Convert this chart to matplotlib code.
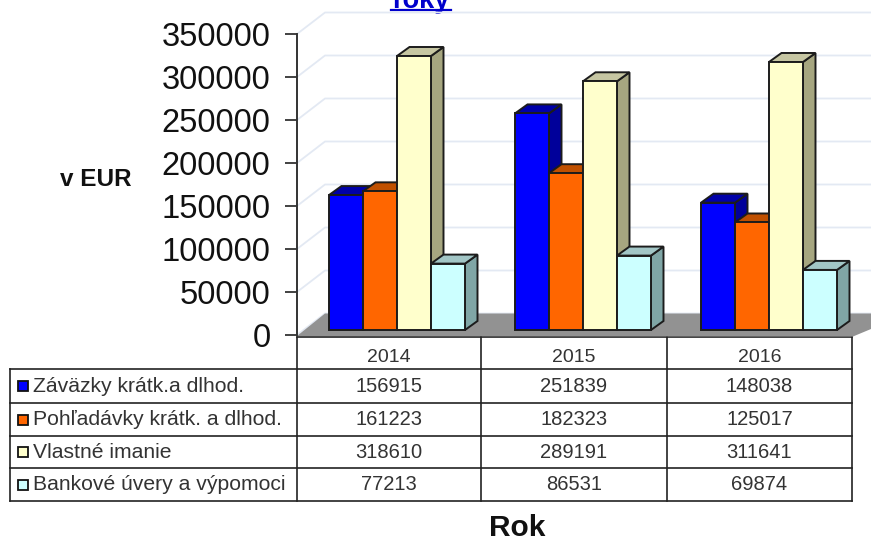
import matplotlib
matplotlib.use("Agg")
import matplotlib.pyplot as plt
from matplotlib.patches import Polygon, Rectangle

plt.rcParams["font.family"] = ["Liberation Sans", "DejaVu Sans"]

years = ["2014", "2015", "2016"]
series = ["Záväzky krátk.a dlhod.", "Pohľadávky krátk. a dlhod.", "Vlastné imanie", "Bankové úvery a výpomoci"]
zavazky = [156915, 251839, 148038]
pohladavky = [161223, 182323, 125017]
imanie = [318610, 289191, 311641]
uvery = [77213, 86531, 69874]
yticks = [0, 50000, 100000, 150000, 200000, 250000, 300000, 350000]

values = [zavazky, pohladavky, imanie, uvery]
front_cols = ["#0000ff", "#ff6600", "#ffffcc", "#ccffff"]
top_cols = ["#0000a8", "#c05000", "#c6c6a2", "#a2c6c6"]
side_cols = ["#00009a", "#a04000", "#a6a680", "#80a6a6"]
edge = "#1c1c1c"

W, H = 871, 543
fig = plt.figure(figsize=(W / 100, H / 100), dpi=100)

# table and loose labels live in a pixel axes, chart axes sits on top of it
tab = fig.add_axes([0, 0, 1, 1])
tab.set_xlim(0, W)
tab.set_ylim(H, 0)
tab.axis("off")

ax = fig.add_axes([297 / W, 1 - 335 / H, (W - 297) / W, 301 / H])
ax.set_xlim(297, W)
ax.set_ylim(0, 350000)
ax.patch.set_alpha(0)
for s in ["top", "right", "bottom"]:
    ax.spines[s].set_visible(False)
ax.spines["left"].set_color("#333333")
ax.spines["left"].set_linewidth(1.4)
ax.set_xticks([])
ax.set_yticks(yticks)
ax.set_yticklabels([str(t) for t in yticks], fontsize=23.5, color="#111111")
ax.tick_params(axis="y", length=9, width=1.3, color="#333333", pad=10)

eur = 350000 / 301  # EUR per pixel
depth_x, depth_y = 12.5, 9 * eur
wall_x, wall_y = 28, 21.5 * eur
base = 5 * eur
bar_w = 34
group_x = [329, 515, 701]

# back wall grid
for t in yticks:
    ax.plot([297, 297 + wall_x, W], [t, t + wall_y, t + wall_y], color="#e3e9f3", lw=1.3, zorder=1, clip_on=False)

# floor
floor = [(297, -1 * eur), (297 + wall_x, wall_y), (W, wall_y), (W, 6 * eur), (853, -1.5 * eur)]
ax.add_patch(Polygon(floor, closed=True, fc="#929292", ec="none", zorder=2, clip_on=False))

for g, gx in enumerate(group_x):
    for i, vals in enumerate(values):
        x0 = gx + i * bar_w
        x1 = x0 + bar_w
        v = vals[g]
        top = base + v
        z = 3 + i * 0.1
        side = [(x1, base), (x1 + depth_x, base + depth_y), (x1 + depth_x, top + depth_y), (x1, top)]
        roof = [(x0, top), (x0 + depth_x, top + depth_y), (x1 + depth_x, top + depth_y), (x1, top)]
        ax.add_patch(Polygon(side, closed=True, fc=side_cols[i], ec=edge, lw=1.4, zorder=z, clip_on=False))
        ax.add_patch(Polygon(roof, closed=True, fc=top_cols[i], ec=edge, lw=1.4, zorder=z, clip_on=False))
        ax.bar(x0, v, width=bar_w, bottom=base, align="edge", color=front_cols[i], edgecolor=edge, lw=1.4, zorder=z, clip_on=False)

# table grid
col_x = [297, 481, 667, 852]
row_y = [369, 403, 436, 468, 501]
line_kw = dict(color="#222222", lw=1.2, zorder=1)
tab.plot([297, 852], [337, 337], **line_kw)
for y in row_y:
    tab.plot([10, 852], [y, y], **line_kw)
tab.plot([10, 10], [369, 501], **line_kw)
for x in col_x:
    tab.plot([x, x], [337, 501], **line_kw)

for c, yr in enumerate(years):
    tab.text((col_x[c] + col_x[c + 1]) / 2, 358, yr, ha="center", va="center", fontsize=14, color="#333333")

for r, name in enumerate(series):
    yc = (row_y[r] + row_y[r + 1]) / 2
    tab.add_patch(Rectangle((18, yc - 5), 10, 10, fc=front_cols[r], ec="#111111", lw=1.3))
    tab.text(33, yc, name, ha="left", va="center", fontsize=15.2, color="#333333")
    for c in range(3):
        tab.text((col_x[c] + col_x[c + 1]) / 2, yc, str(values[r][c]), ha="center", va="center", fontsize=14.5, color="#333333")

tab.text(96, 180, "v EUR", ha="center", va="center", fontsize=17.5, fontweight="bold", color="#111111")
tab.text(517, 528, "Rok", ha="center", va="center", fontsize=21.5, fontweight="bold", color="#111111")
tab.text(421, 8, "roky", ha="center", va="baseline", fontsize=19.5, fontweight="bold", color="#0000cc")
tab.plot([391, 451], [9.5, 9.5], color="#0000cc", lw=1.6)

fig.savefig("out.png", dpi=100)
